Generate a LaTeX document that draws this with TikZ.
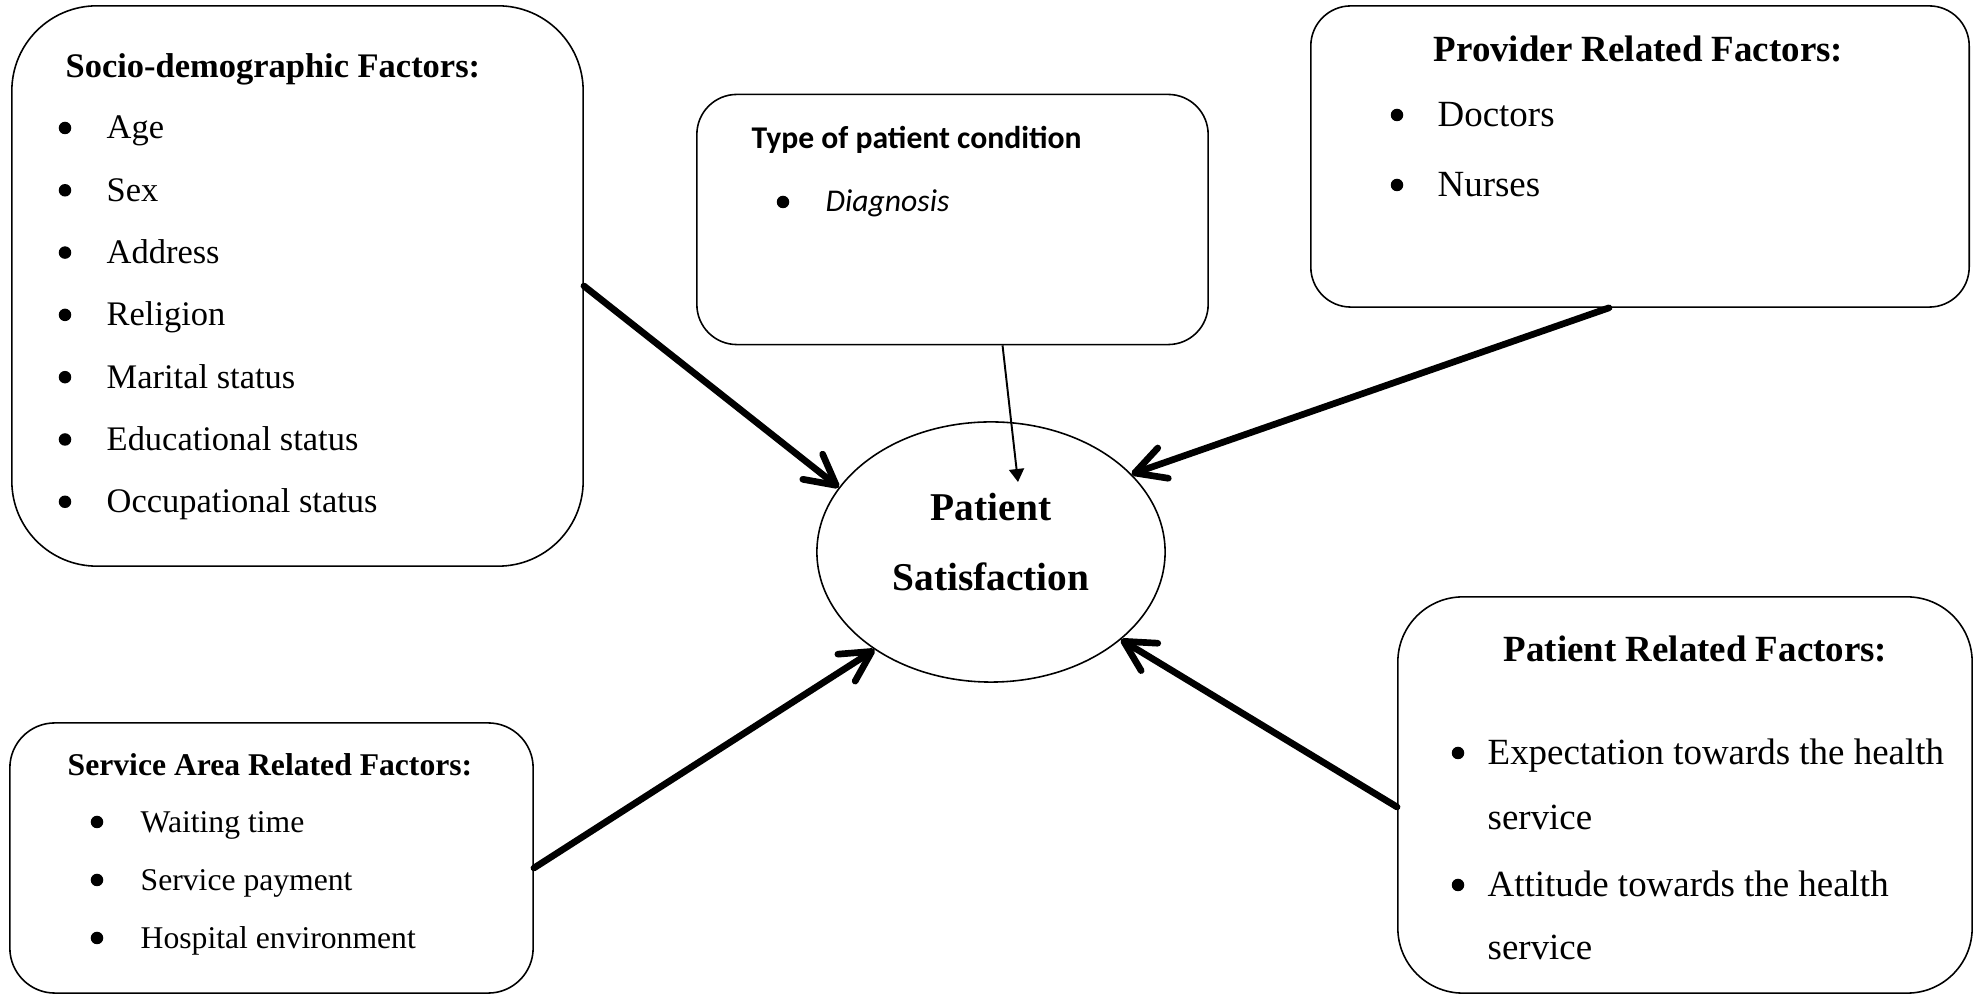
\documentclass[tikz,border=0pt]{standalone}
\usepackage{fontspec}
\setmainfont{Liberation Serif}
\newfontfamily\calibrifont{Carlito}
\usetikzlibrary{arrows.meta,shapes.geometric}

\newcommand\socsize{\fontsize{9.8}{12}\selectfont}
\newcommand\provsize{\fontsize{10.5}{12}\selectfont}
\newcommand\servsize{\fontsize{9}{11}\selectfont}
\newcommand\condsize{\calibrifont\fontsize{9}{11}\selectfont}

\tikzset{
  factorbox/.style={draw, line width=0.45pt, rounded corners=#1, inner sep=0pt},
  txt/.style={anchor=base west, inner sep=0pt},
  dotmark/.style={circle, fill, inner sep=0pt, minimum size=0.125cm},
  bigarrow/.style={line width=1.9pt, line cap=round, -{Straight Barb[length=3mm, width=3.2mm, round]}},
  thinarrow/.style={line width=0.55pt, -{Triangle[length=1.3mm, width=1.5mm]}}
}

\begin{document}
\begin{tikzpicture}[x=0.01cm, y=-0.01cm]
    \useasboundingbox (0,0) rectangle (1975,995);

    % boxes
    \node[factorbox=0.85cm, minimum width=5.71cm, minimum height=5.6cm] (socio) at (297.5,286) {};
    \node[factorbox=0.4cm, minimum width=5.11cm, minimum height=2.5cm] (cond) at (952.5,219.5) {};
    \node[factorbox=0.4cm, minimum width=6.58cm, minimum height=3.01cm] (prov) at (1640,156.5) {};
    \node[factorbox=0.45cm, minimum width=5.23cm, minimum height=2.7cm] (serv) at (271.5,858) {};
    \node[factorbox=0.65cm, minimum width=5.74cm, minimum height=3.96cm] (pat) at (1685,795) {};
    \node[draw, ellipse, line width=0.45pt, minimum width=3.48cm, minimum height=2.6cm, inner sep=0pt] (sat) at (991,552) {};

    % socio-demographic
    \node[txt, font=\socsize\bfseries] (sociotitle) at (65,78) {Socio-demographic Factors:};
    \foreach \lbl [count=\i from 0] in {Age, Sex, Address, Religion, Marital status, Educational status, Occupational status} {
        \node[dotmark] (sociodot\i) at (65,128+62.3*\i) {};
        \node[txt, font=\socsize] (socioitem\i) at (106,139+62.3*\i) {\lbl};
    }

    % patient condition
    \node[txt, font=\condsize\bfseries] (condtitle) at (751,149) {Type of patient condition};
    \node[dotmark] (conddot) at (783,202) {};
    \node[txt, font=\condsize\itshape] (conditem) at (825,212) {Diagnosis};

    % provider
    \node[txt, font=\provsize\bfseries] (provtitle) at (1433,62) {Provider Related Factors:};
    \foreach \lbl [count=\i from 0] in {Doctors, Nurses} {
        \node[dotmark] (provdot\i) at (1397,115+70*\i) {};
        \node[txt, font=\provsize] (provitem\i) at (1437,127+70*\i) {\lbl};
    }

    % service area
    \node[txt, font=\servsize\bfseries] (servtitle) at (67,776) {Service Area Related Factors:};
    \foreach \lbl [count=\i from 0] in {Waiting time, Service payment, Hospital environment} {
        \node[dotmark] (servdot\i) at (97,822+58*\i) {};
        \node[txt, font=\servsize] (servitem\i) at (140,833+58*\i) {\lbl};
    }

    % patient related
    \node[txt, font=\provsize\bfseries] (pattitle) at (1503,662) {Patient Related Factors:};
    \node[dotmark] (patdot0) at (1458,753) {};
    \node[txt, font=\provsize] (patitem0) at (1487,765) {Expectation towards the health};
    \node[txt, font=\provsize] (patcont0) at (1487,830) {service};
    \node[dotmark] (patdot1) at (1458,885) {};
    \node[txt, font=\provsize] (patitem1) at (1487,897) {Attitude towards the health};
    \node[txt, font=\provsize] (patcont1) at (1487,960) {service};

    % centre
    \node[anchor=base, inner sep=0pt, font=\fontsize{11.2}{14}\selectfont\bfseries] (satline0) at (991,521) {Patient};
    \node[anchor=base, inner sep=0pt, font=\fontsize{11.2}{14}\selectfont\bfseries] (satline1) at (991,591) {Satisfaction};

    % arrows
    \coordinate (condtip) at (1018,482);
    \draw[bigarrow] (socio.east) -- (sat.157);
    \draw[thinarrow] ([xshift=0.5cm]cond.south) -- (condtip);
    \draw[bigarrow] ([xshift=-0.31cm]prov.south) -- (sat.29);
    \draw[bigarrow] ([yshift=-0.1cm]serv.east) -- (sat.220);
    \draw[bigarrow] ([yshift=-0.12cm]pat.west) -- (sat.326);
\end{tikzpicture}
\end{document}
